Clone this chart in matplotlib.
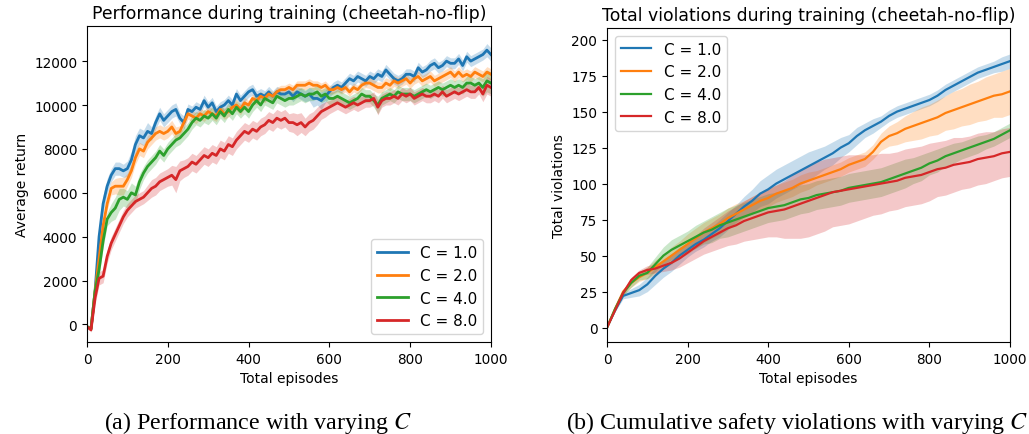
import matplotlib
matplotlib.use('Agg')
import matplotlib.pyplot as plt
import numpy as np

# ---- performance (left), every 10 episodes ----
ep_perf = list(range(0, 1001, 10))
perf_c1 = [-100, -200, 1500, 4000, 5500, 6300, 6800, 7100, 7100, 7000,
           7100, 7500, 8200, 8600, 8500, 8800, 8700, 9200, 9600, 9300,
           9500, 9700, 9800, 9400, 9200, 9800, 9700, 9900, 9800, 10200,
           9900, 10100, 9700, 9900, 10000, 10200, 10000, 10500, 10200, 10400,
           10600, 10700, 10400, 10500, 10400, 10600, 10400, 10600, 10500, 10500,
           10600, 10400, 10600, 10500, 10400, 10500, 10300, 10300, 10200, 10400,
           10600, 10800, 10900, 10800, 11000, 11200, 11100, 11300, 11200, 11100,
           11300, 11200, 11400, 11300, 11600, 11400, 11200, 11100, 11200, 11400,
           11400, 11300, 11700, 11500, 11600, 11800, 11900, 11700, 11800, 12000,
           11900, 11900, 12100, 11800, 12200, 12000, 12100, 12200, 12300, 12500,
           12300]
perf_c2 = [-100, -200, 1500, 3000, 4500, 5500, 6200, 6300, 6300, 6300,
           6600, 7000, 7600, 8000, 7900, 8300, 8500, 8700, 8800, 8700,
           8800, 9000, 8700, 8800, 9200, 9600, 9500, 9400, 9600, 9500,
           9700, 9600, 9500, 9800, 9600, 9700, 9900, 10000, 9800, 10100,
           10000, 10300, 10200, 10400, 10300, 10500, 10400, 10600, 10700, 10700,
           10800, 10700, 10900, 10900, 10900, 11000, 10900, 10900, 10800, 10900,
           10700, 10700, 10800, 10700, 10800, 10600, 10800, 10700, 10900, 11000,
           11000, 10900, 10800, 10800, 11000, 10900, 11100, 11000, 11100, 11200,
           11000, 11200, 11300, 11100, 11200, 11300, 11100, 11200, 11300, 11400,
           11500, 11300, 11500, 11300, 11400, 11300, 11500, 11400, 11300, 11500,
           11400]
perf_c4 = [-100, -200, 1500, 2500, 3800, 4800, 5100, 5300, 5700, 5800,
           5700, 6000, 5900, 6500, 6900, 7200, 7400, 7600, 7900, 7700,
           8000, 8200, 8400, 8500, 8700, 8900, 9200, 9400, 9300, 9500,
           9400, 9600, 9400, 9700, 9500, 9800, 9600, 9900, 9700, 9900,
           9700, 10000, 10200, 10000, 10300, 10200, 10100, 10400, 10300, 10200,
           10300, 10300, 10400, 10500, 10400, 10500, 10500, 10600, 10400, 10500,
           10300, 10300, 10400, 10300, 10200, 10100, 10200, 10300, 10500, 10400,
           10400, 10200, 10000, 10300, 10400, 10500, 10400, 10600, 10500, 10500,
           10500, 10400, 10500, 10600, 10700, 10600, 10700, 10800, 10700, 10800,
           10900, 10800, 10900, 10800, 11000, 11000, 10900, 11000, 10800, 11100,
           11000]
perf_c8 = [-100, -250, 1200, 2100, 2200, 3100, 3700, 4100, 4500, 4900,
           5200, 5400, 5600, 5700, 5800, 6000, 6200, 6300, 6500, 6600,
           6700, 6800, 6600, 7000, 7100, 7200, 7400, 7300, 7500, 7700,
           7600, 7800, 7700, 8000, 7900, 8200, 8100, 8400, 8600, 8800,
           8700, 8900, 8800, 9000, 9100, 9300, 9200, 9400, 9300, 9400,
           9200, 9200, 9100, 9200, 9000, 9200, 9300, 9500, 9700, 9800,
           9900, 10000, 10100, 10000, 9900, 10000, 10100, 10000, 10100, 10200,
           10200, 10300, 9900, 10200, 10300, 10300, 10400, 10300, 10500, 10400,
           10500, 10300, 10400, 10500, 10400, 10400, 10500, 10400, 10600, 10400,
           10500, 10600, 10500, 10600, 10700, 10600, 10600, 10800, 10500, 10900,
           10800]
perf_hw_c1 = [0, 100, 300, 400, 400, 350, 300, 300, 300, 300,
              350, 400, 400, 350, 350, 400, 300, 300, 300, 300,
              300, 300, 300, 250, 300, 250, 250, 250, 250, 250,
              250, 250, 250, 250, 250, 250, 250, 250, 250, 250,
              250, 250, 250, 250, 250, 250, 250, 250, 250, 250,
              250, 250, 250, 250, 250, 300, 400, 300, 400, 300,
              250, 250, 250, 250, 250, 250, 250, 250, 250, 250,
              250, 250, 250, 250, 250, 250, 250, 250, 250, 250,
              250, 250, 250, 250, 250, 250, 250, 250, 250, 250,
              250, 250, 250, 250, 250, 250, 250, 250, 250, 300,
              300]
perf_hw_c2 = [0, 100, 300, 300, 300, 300, 300, 350, 400, 400,
              300, 300, 300, 300, 300, 300, 300, 300, 300, 300,
              300, 300, 300, 250, 250, 250, 250, 250, 250, 250,
              250, 250, 250, 250, 250, 250, 250, 250, 250, 250,
              200, 200, 200, 200, 200, 200, 200, 200, 200, 200,
              200, 200, 200, 200, 200, 200, 200, 200, 200, 200,
              200, 200, 200, 200, 200, 200, 200, 200, 200, 200,
              250, 250, 250, 250, 250, 250, 250, 250, 250, 250,
              250, 250, 250, 250, 250, 250, 250, 250, 250, 250,
              250, 250, 250, 250, 250, 250, 250, 250, 250, 250,
              250]
perf_hw_c4 = [0, 100, 300, 300, 300, 300, 400, 500, 500, 400,
              400, 450, 400, 350, 300, 300, 300, 300, 300, 300,
              300, 300, 300, 300, 300, 300, 300, 300, 300, 300,
              300, 300, 300, 300, 300, 300, 300, 300, 300, 300,
              300, 300, 300, 300, 300, 300, 300, 300, 300, 300,
              300, 300, 300, 300, 300, 300, 300, 300, 300, 300,
              300, 300, 300, 300, 300, 300, 300, 300, 300, 300,
              300, 300, 400, 300, 300, 300, 300, 300, 300, 300,
              300, 300, 300, 300, 300, 300, 300, 300, 300, 300,
              300, 300, 300, 300, 300, 300, 300, 300, 400, 500,
              500]
perf_hw_c8 = [0, 100, 300, 300, 300, 300, 300, 300, 300, 300,
              300, 300, 300, 300, 300, 350, 400, 400, 400, 400,
              400, 450, 600, 450, 400, 400, 400, 400, 400, 400,
              400, 400, 400, 400, 400, 400, 400, 400, 400, 400,
              400, 400, 400, 400, 400, 400, 400, 400, 400, 400,
              400, 450, 500, 450, 400, 400, 400, 400, 350, 350,
              300, 300, 300, 300, 300, 300, 300, 300, 300, 300,
              300, 300, 350, 300, 300, 300, 300, 300, 300, 300,
              300, 300, 300, 300, 300, 300, 300, 300, 300, 300,
              300, 300, 300, 300, 300, 300, 300, 300, 350, 400,
              400]

# ---- cumulative violations (right), every 20 episodes ----
ep_viol = list(range(0, 1001, 20))
viol_c1 = [0, 12, 22, 24, 26, 30, 36, 41, 45, 50, 54, 58, 61, 65, 69, 74, 79, 84, 88, 93,
           96, 100, 103, 106, 109, 112, 115, 118, 121, 125, 128, 133, 137, 140, 143, 147,
           150, 152, 154, 156, 158, 161, 165, 168, 171, 174, 177, 179, 181, 183, 185]
viol_c2 = [0, 13, 25, 31, 35, 38, 42, 46, 50, 54, 58, 62, 66, 69, 72, 76, 79, 82, 85, 88,
           90, 93, 95, 97, 100, 102, 104, 106, 108, 110, 113, 115, 117, 122, 129, 133,
           135, 138, 140, 142, 144, 146, 149, 151, 153, 155, 157, 159, 161, 162, 164]
viol_c4 = [0, 13, 24, 31, 36, 38, 44, 50, 54, 57, 60, 63, 66, 68, 71, 73, 75, 77, 79, 81,
           83, 84, 85, 87, 89, 90, 92, 93, 94, 95, 97, 98, 99, 100, 101, 103,
           105, 107, 109, 111, 114, 116, 119, 121, 123, 125, 127, 129, 131, 134, 137]
viol_c8 = [0, 12, 24, 33, 38, 40, 41, 43, 45, 48, 52, 56, 60, 63, 66, 69, 71, 74, 76, 78,
           80, 81, 82, 84, 86, 88, 90, 92, 94, 95, 96, 97, 98, 99, 100, 101,
           102, 104, 105, 106, 108, 110, 111, 113, 114, 115, 117, 118, 119, 121, 122]
viol_hw_c1 = [0, 1, 2, 3, 4, 5, 6, 6, 6, 6, 5, 5, 5, 5, 6, 6, 6, 7, 8, 9,
              10, 10, 10, 10, 10, 10, 9, 8, 8, 7, 6, 6, 5, 5, 4, 4,
              4, 4, 4, 4, 4, 4, 4, 4, 4, 4, 4, 4, 4, 5, 5]
viol_hw_c2 = [0, 1, 2, 3, 3, 4, 5, 5, 6, 6, 7, 7, 7, 7, 7, 7, 7, 6, 6, 6,
              6, 6, 6, 6, 6, 6, 5, 5, 5, 5, 5, 5, 5, 5, 6, 7,
              8, 9, 10, 11, 11, 12, 12, 13, 13, 14, 14, 15, 15, 16, 16]
viol_hw_c4 = [0, 1, 2, 3, 3, 4, 5, 6, 7, 7, 7, 8, 8, 9, 9, 10, 10, 10, 10, 10,
              10, 10, 10, 10, 10, 10, 10, 10, 10, 10, 10, 10, 10, 10, 10, 10,
              10, 10, 9, 9, 8, 8, 7, 7, 6, 6, 6, 5, 5, 5, 5]
viol_hw_c8 = [0, 1, 2, 2, 2, 3, 3, 4, 5, 6, 7, 8, 9, 10, 11, 12, 13, 14, 15, 16,
              17, 18, 20, 22, 24, 25, 25, 25, 24, 24, 24, 23, 22, 21, 21, 20,
              20, 20, 20, 20, 20, 19, 19, 19, 18, 18, 18, 18, 17, 17, 17]

labels = ['C = 1.0', 'C = 2.0', 'C = 4.0', 'C = 8.0']
colors = ['tab:blue', 'tab:orange', 'tab:green', 'tab:red']

fig = plt.figure(figsize=(10.29, 4.35), dpi=100)
ax1 = fig.add_axes([0.0845, 0.2115, 0.3926, 0.7264])
ax2 = fig.add_axes([0.5899, 0.2115, 0.3916, 0.7218])

perf = [perf_c1, perf_c2, perf_c4, perf_c8]
perf_hw = [perf_hw_c1, perf_hw_c2, perf_hw_c4, perf_hw_c8]
for m, h, c, lab in zip(perf, perf_hw, colors, labels):
    m = np.array(m)
    h = np.array(h)
    ax1.fill_between(ep_perf, m - h, m + h, color=c, alpha=0.25, lw=0)
    ax1.plot(ep_perf, m, color=c, lw=2, label=lab)

viol = [viol_c1, viol_c2, viol_c4, viol_c8]
viol_hw = [viol_hw_c1, viol_hw_c2, viol_hw_c4, viol_hw_c8]
for m, h, c, lab in zip(viol, viol_hw, colors, labels):
    m = np.array(m)
    h = np.array(h)
    ax2.fill_between(ep_viol, m - h, m + h, color=c, alpha=0.25, lw=0)
    ax2.plot(ep_viol, m, color=c, lw=1.6, label=lab)

ax1.set_xlim(0, 1000)
ax1.set_ylim(-800, 13600)
ax1.set_yticks([0, 2000, 4000, 6000, 8000, 10000, 12000])
ax1.set_title('Performance during training (cheetah-no-flip)', fontsize=12.4)
ax1.set_xlabel('Total episodes', fontsize=10)
ax1.set_ylabel('Average return', fontsize=10)
ax1.legend(loc='lower right', fontsize=11)

ax2.set_xlim(0, 1000)
ax2.set_ylim(-10, 208)
ax2.set_yticks([0, 25, 50, 75, 100, 125, 150, 175, 200])
ax2.set_title('Total violations during training (cheetah-no-flip)', fontsize=12.4)
ax2.set_xlabel('Total episodes', fontsize=10)
ax2.set_ylabel('Total violations', fontsize=10)
ax2.legend(loc='upper left', fontsize=11)

for ax in (ax1, ax2):
    ax.tick_params(labelsize=9.8)

plt.rcParams['mathtext.fontset'] = 'stix'
fig.text(0.251, 0.014, '(a) Performance with varying $C$', ha='center', va='baseline',
         fontsize=17.3, family='Liberation Serif')
fig.text(0.775, 0.014, '(b) Cumulative safety violations with varying $C$', ha='center',
         va='baseline', fontsize=17.3, family='Liberation Serif')

fig.savefig('out.png', dpi=100)
